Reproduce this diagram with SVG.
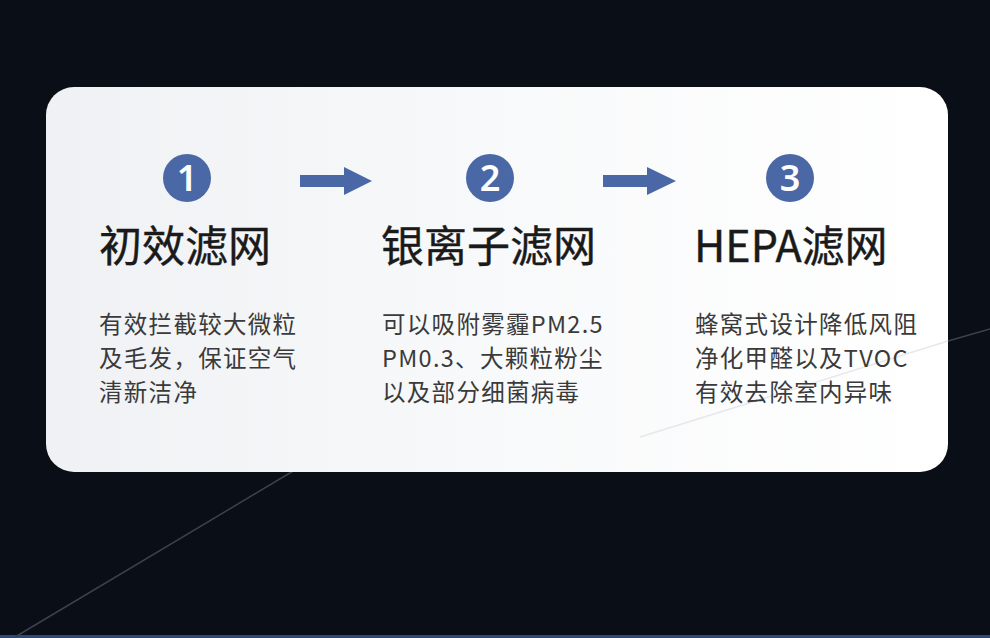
<svg xmlns="http://www.w3.org/2000/svg" width="990" height="638" viewBox="0 0 990 638">
<defs>
<linearGradient id="card" x1="0" y1="0" x2="1" y2="0">
<stop offset="0" stop-color="#f0f1f4"/>
<stop offset="0.5" stop-color="#f8f9fa"/>
<stop offset="1" stop-color="#ffffff"/>
</linearGradient>
<style>
.num{font-family:"Noto Sans","DejaVu Sans",sans-serif;font-size:36px;font-weight:600;fill:#ffffff;text-anchor:middle}
.title{font-family:"Noto Sans CJK SC","Noto Sans",sans-serif;font-size:43px;font-weight:400;fill:#1a1a1a;stroke:#1a1a1a;stroke-width:0.4px}
.desc{font-family:"Noto Sans CJK SC","Noto Sans",sans-serif;font-size:23.5px;fill:#3a3a3a;letter-spacing:1.3px}
.badge{fill:#4a68a6}
.arrow{fill:#4a68a6}
</style>
</defs>
<rect width="990" height="638" fill="#0a0e16"/>
<rect x="0" y="635" width="990" height="3" fill="#2c4a7a"/>
<line x1="15" y1="637" x2="300" y2="467" stroke="#3a4250" stroke-width="1.5"/>
<rect x="46" y="87" width="902" height="385" rx="28" fill="url(#card)"/>
<line x1="640" y1="437" x2="948" y2="341" stroke="#e6e8ec" stroke-width="1.5"/>
<line x1="948" y1="341" x2="990" y2="329" stroke="#3a4250" stroke-width="1.5"/>
<g id="connectors">
<path class="arrow" d="M300,175 H344 V167 L372,181 L344,195 V187 H300 Z"/>
<path class="arrow" d="M603,175 H647 V167 L676,181 L647,195 V187 H603 Z"/>
</g>
<g id="step1">
<circle class="badge" cx="187" cy="178" r="24"/>
<text class="num" x="187" y="191">1</text>
<text class="title" x="99" y="262">初效滤网</text>
<text class="desc" x="99" y="333">有效拦截较大微粒</text>
<text class="desc" x="99" y="367">及毛发，保证空气</text>
<text class="desc" x="99" y="401">清新洁净</text>
</g>
<g id="step2">
<circle class="badge" cx="490" cy="178" r="24"/>
<text class="num" x="490" y="191">2</text>
<text class="title" x="381" y="262">银离子滤网</text>
<text class="desc" x="382" y="333">可以吸附雾霾PM2.5</text>
<text class="desc" x="382" y="367">PM0.3、大颗粒粉尘</text>
<text class="desc" x="382" y="401">以及部分细菌病毒</text>
</g>
<g id="step3">
<circle class="badge" cx="790" cy="178" r="24"/>
<text class="num" x="790" y="191">3</text>
<text class="title" x="694" y="262">HEPA滤网</text>
<text class="desc" x="695" y="333">蜂窝式设计降低风阻</text>
<text class="desc" x="695" y="367">净化甲醛以及TVOC</text>
<text class="desc" x="695" y="401">有效去除室内异味</text>
</g>
</svg>
